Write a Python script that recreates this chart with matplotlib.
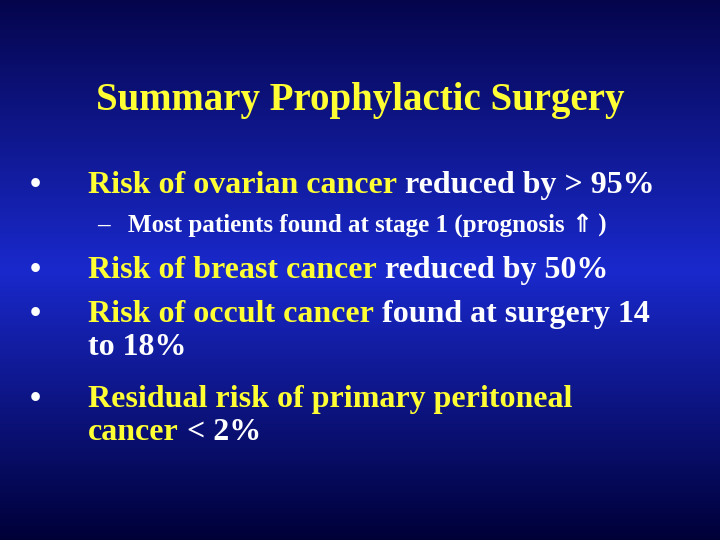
import numpy as np
import matplotlib
matplotlib.use("Agg")
import matplotlib.pyplot as plt
from matplotlib import font_manager as fm

W, H = 720, 540
YEL = "#FFFF33"
WHT = "#FFFFFF"

title = "Summary Prophylactic Surgery"
lines = [
    ("•", 30, 88, 193, 23, [("Risk of ovarian cancer", YEL), (" reduced by > 95%", WHT)]),
    ("–", 97, 128, 232, 18, [("Most patients found at stage 1 (prognosis ", WHT), ("⇑", WHT), (" )", WHT)]),
    ("•", 30, 88, 278, 23, [("Risk of breast cancer", YEL), (" reduced by 50%", WHT)]),
    ("•", 30, 88, 322, 23, [("Risk of occult cancer", YEL), (" found at surgery 14", WHT)]),
    (None, 30, 88, 355, 23, [("to 18%", WHT)]),
    ("•", 30, 88, 407, 23, [("Residual risk of primary peritoneal", YEL)]),
    (None, 30, 88, 440, 23, [("cancer", YEL), (" < 2%", WHT)]),
]

path = None
for f in fm.findSystemFonts():
    n = f.lower().replace("\\", "/").split("/")[-1]
    if "liberationserif-bold.ttf" == n:
        path = f
        break

def fp(size):
    if path:
        return fm.FontProperties(fname=path, size=size)
    return fm.FontProperties(family=["Liberation Serif", "DejaVu Serif"], weight="bold", size=size)

fig = plt.figure(figsize=(7.2, 5.4), dpi=100)
ax = fig.add_axes([0, 0, 1, 1])
ax.set_xlim(0, W); ax.set_ylim(H, 0); ax.axis("off")

yy = np.linspace(0, 1, 256)
top = np.array([0.02, 0.02, 0.30]); mid = np.array([0.10, 0.16, 0.80]); bot = np.array([0.0, 0.0, 0.22])
cols = np.where(yy[:, None] < 0.5, top + (mid - top) * (yy[:, None] / 0.5),
                mid + (bot - mid) * ((yy[:, None] - 0.5) / 0.5))
img = np.repeat(cols[:, None, :], 2, axis=1)
ax.imshow(img, extent=[0, W, H, 0], aspect="auto", zorder=0)

ax.text(W / 2, 110, title, color=YEL, fontproperties=fp(28), ha="center", va="baseline")

fig.canvas.draw()
r = fig.canvas.get_renderer()
inv = ax.transData.inverted()
for marker, mx, tx, by, fs, segs in lines:
    if marker:
        ax.text(mx, by, marker, color=WHT, fontproperties=fp(fs), va="baseline")
    x = tx
    for s, c in segs:
        if s == "⇑":
            t = ax.text(x, by, s, color=c, fontsize=fs, fontweight="bold",
                        family=["DejaVu Sans"], va="baseline")
        else:
            t = ax.text(x, by, s, color=c, fontproperties=fp(fs), va="baseline")
        bb = t.get_window_extent(r)
        x = inv.transform((bb.x1, bb.y0))[0]

fig.savefig("out.png", dpi=100)
